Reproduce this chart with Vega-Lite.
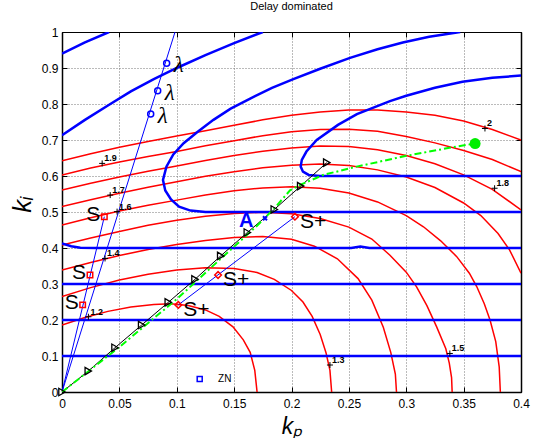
{
"$schema":"https://vega.github.io/schema/vega-lite/v6.json",
"width":459,"height":360,
"autosize":{"type":"none"},
"padding":{"left":62,"top":32,"right":12,"bottom":46},
"background":"white",
"title":{"text":"Delay dominated","fontSize":11,"fontWeight":"normal","font":"Liberation Sans","color":"black","offset":14},
"config":{"view":{"stroke":"black","strokeWidth":1},"font":"Liberation Sans"},
"datasets":{
"red":[
{"c":"1.2","kp":0,"ki":0.186},{"c":"1.2","kp":0.02,"ki":0.207},{"c":"1.2","kp":0.04,"ki":0.224},{"c":"1.2","kp":0.06,"ki":0.236},{"c":"1.2","kp":0.08,"ki":0.243},{"c":"1.2","kp":0.095,"ki":0.245},{"c":"1.2","kp":0.11,"ki":0.24},{"c":"1.2","kp":0.125,"ki":0.228},{"c":"1.2","kp":0.137,"ki":0.21},{"c":"1.2","kp":0.149,"ki":0.181},{"c":"1.2","kp":0.158,"ki":0.145},{"c":"1.2","kp":0.164,"ki":0.11},{"c":"1.2","kp":0.168,"ki":0.06},{"c":"1.2","kp":0.17,"ki":0},
{"c":"1.3","kp":0,"ki":0.265},{"c":"1.3","kp":0.025,"ki":0.29},{"c":"1.3","kp":0.05,"ki":0.311},{"c":"1.3","kp":0.075,"ki":0.327},{"c":"1.3","kp":0.1,"ki":0.339},{"c":"1.3","kp":0.125,"ki":0.345},{"c":"1.3","kp":0.15,"ki":0.343},{"c":"1.3","kp":0.17,"ki":0.332},{"c":"1.3","kp":0.185,"ki":0.313},{"c":"1.3","kp":0.2,"ki":0.282},{"c":"1.3","kp":0.21,"ki":0.25},{"c":"1.3","kp":0.218,"ki":0.21},{"c":"1.3","kp":0.225,"ki":0.16},{"c":"1.3","kp":0.23,"ki":0.11},{"c":"1.3","kp":0.2335,"ki":0.06},{"c":"1.3","kp":0.235,"ki":0},
{"c":"1.4","kp":0,"ki":0.339},{"c":"1.4","kp":0.025,"ki":0.36},{"c":"1.4","kp":0.05,"ki":0.379},{"c":"1.4","kp":0.075,"ki":0.396},{"c":"1.4","kp":0.1,"ki":0.41},{"c":"1.4","kp":0.125,"ki":0.421},{"c":"1.4","kp":0.15,"ki":0.429},{"c":"1.4","kp":0.175,"ki":0.432},{"c":"1.4","kp":0.2,"ki":0.424},{"c":"1.4","kp":0.22,"ki":0.405},{"c":"1.4","kp":0.24,"ki":0.37},{"c":"1.4","kp":0.258,"ki":0.315},{"c":"1.4","kp":0.27,"ki":0.255},{"c":"1.4","kp":0.28,"ki":0.18},{"c":"1.4","kp":0.2865,"ki":0.11},{"c":"1.4","kp":0.2905,"ki":0.05},{"c":"1.4","kp":0.2915,"ki":0},
{"c":"1.5","kp":0,"ki":0.408},{"c":"1.5","kp":0.025,"ki":0.428},{"c":"1.5","kp":0.05,"ki":0.446},{"c":"1.5","kp":0.075,"ki":0.463},{"c":"1.5","kp":0.1,"ki":0.477},{"c":"1.5","kp":0.125,"ki":0.488},{"c":"1.5","kp":0.15,"ki":0.496},{"c":"1.5","kp":0.175,"ki":0.499},{"c":"1.5","kp":0.2,"ki":0.495},{"c":"1.5","kp":0.225,"ki":0.482},{"c":"1.5","kp":0.25,"ki":0.458},{"c":"1.5","kp":0.27,"ki":0.425},{"c":"1.5","kp":0.2858,"ki":0.38},{"c":"1.5","kp":0.3,"ki":0.333},{"c":"1.5","kp":0.309,"ki":0.292},{"c":"1.5","kp":0.318,"ki":0.24},{"c":"1.5","kp":0.3265,"ki":0.181},{"c":"1.5","kp":0.3345,"ki":0.12},{"c":"1.5","kp":0.3375,"ki":0.08},{"c":"1.5","kp":0.3395,"ki":0.04},{"c":"1.5","kp":0.34,"ki":0},
{"c":"1.6","kp":0,"ki":0.464},{"c":"1.6","kp":0.025,"ki":0.484},{"c":"1.6","kp":0.05,"ki":0.503},{"c":"1.6","kp":0.075,"ki":0.519},{"c":"1.6","kp":0.1,"ki":0.533},{"c":"1.6","kp":0.125,"ki":0.547},{"c":"1.6","kp":0.15,"ki":0.559},{"c":"1.6","kp":0.175,"ki":0.567},{"c":"1.6","kp":0.2,"ki":0.57},{"c":"1.6","kp":0.225,"ki":0.566},{"c":"1.6","kp":0.25,"ki":0.553},{"c":"1.6","kp":0.275,"ki":0.528},{"c":"1.6","kp":0.3,"ki":0.49},{"c":"1.6","kp":0.315,"ki":0.459},{"c":"1.6","kp":0.33,"ki":0.42},{"c":"1.6","kp":0.344,"ki":0.376},{"c":"1.6","kp":0.355,"ki":0.33},{"c":"1.6","kp":0.3614,"ki":0.293},{"c":"1.6","kp":0.368,"ki":0.245},{"c":"1.6","kp":0.373,"ki":0.2},{"c":"1.6","kp":0.378,"ki":0.14},{"c":"1.6","kp":0.381,"ki":0.07},{"c":"1.6","kp":0.382,"ki":0},
{"c":"1.7","kp":0,"ki":0.515},{"c":"1.7","kp":0.025,"ki":0.534},{"c":"1.7","kp":0.05,"ki":0.552},{"c":"1.7","kp":0.075,"ki":0.569},{"c":"1.7","kp":0.1,"ki":0.584},{"c":"1.7","kp":0.125,"ki":0.599},{"c":"1.7","kp":0.15,"ki":0.612},{"c":"1.7","kp":0.175,"ki":0.623},{"c":"1.7","kp":0.2,"ki":0.63},{"c":"1.7","kp":0.225,"ki":0.633},{"c":"1.7","kp":0.25,"ki":0.629},{"c":"1.7","kp":0.275,"ki":0.617},{"c":"1.7","kp":0.3,"ki":0.597},{"c":"1.7","kp":0.325,"ki":0.568},{"c":"1.7","kp":0.35,"ki":0.525},{"c":"1.7","kp":0.365,"ki":0.49},{"c":"1.7","kp":0.38,"ki":0.44},{"c":"1.7","kp":0.39,"ki":0.395},{"c":"1.7","kp":0.4,"ki":0.33},
{"c":"1.8","kp":0,"ki":0.561},{"c":"1.8","kp":0.025,"ki":0.58},{"c":"1.8","kp":0.05,"ki":0.597},{"c":"1.8","kp":0.075,"ki":0.613},{"c":"1.8","kp":0.1,"ki":0.628},{"c":"1.8","kp":0.125,"ki":0.643},{"c":"1.8","kp":0.15,"ki":0.657},{"c":"1.8","kp":0.175,"ki":0.669},{"c":"1.8","kp":0.2,"ki":0.678},{"c":"1.8","kp":0.225,"ki":0.683},{"c":"1.8","kp":0.25,"ki":0.682},{"c":"1.8","kp":0.275,"ki":0.673},{"c":"1.8","kp":0.3,"ki":0.657},{"c":"1.8","kp":0.325,"ki":0.634},{"c":"1.8","kp":0.35,"ki":0.603},{"c":"1.8","kp":0.375,"ki":0.563},{"c":"1.8","kp":0.4,"ki":0.506},
{"c":"1.9","kp":0,"ki":0.603},{"c":"1.9","kp":0.025,"ki":0.622},{"c":"1.9","kp":0.05,"ki":0.639},{"c":"1.9","kp":0.075,"ki":0.654},{"c":"1.9","kp":0.1,"ki":0.668},{"c":"1.9","kp":0.125,"ki":0.684},{"c":"1.9","kp":0.15,"ki":0.698},{"c":"1.9","kp":0.175,"ki":0.712},{"c":"1.9","kp":0.2,"ki":0.723},{"c":"1.9","kp":0.225,"ki":0.729},{"c":"1.9","kp":0.25,"ki":0.73},{"c":"1.9","kp":0.275,"ki":0.724},{"c":"1.9","kp":0.3,"ki":0.71},{"c":"1.9","kp":0.325,"ki":0.692},{"c":"1.9","kp":0.35,"ki":0.671},{"c":"1.9","kp":0.375,"ki":0.646},{"c":"1.9","kp":0.4,"ki":0.612},
{"c":"2","kp":0,"ki":0.642},{"c":"2","kp":0.025,"ki":0.662},{"c":"2","kp":0.05,"ki":0.68},{"c":"2","kp":0.075,"ki":0.696},{"c":"2","kp":0.1,"ki":0.711},{"c":"2","kp":0.125,"ki":0.726},{"c":"2","kp":0.15,"ki":0.741},{"c":"2","kp":0.175,"ki":0.756},{"c":"2","kp":0.2,"ki":0.769},{"c":"2","kp":0.225,"ki":0.778},{"c":"2","kp":0.25,"ki":0.783},{"c":"2","kp":0.275,"ki":0.783},{"c":"2","kp":0.3,"ki":0.778},{"c":"2","kp":0.325,"ki":0.769},{"c":"2","kp":0.35,"ki":0.753},{"c":"2","kp":0.375,"ki":0.729},{"c":"2","kp":0.4,"ki":0.7}
],
"blue":[
{"c":"b1","i":0,"kp":0,"ki":0.94},{"c":"b1","i":1,"kp":0.02,"ki":0.971},{"c":"b1","i":2,"kp":0.041,"ki":1.0},
{"c":"b2","i":0,"kp":0,"ki":0.713},{"c":"b2","i":1,"kp":0.02,"ki":0.756},{"c":"b2","i":2,"kp":0.04,"ki":0.796},{"c":"b2","i":3,"kp":0.06,"ki":0.835},{"c":"b2","i":4,"kp":0.08,"ki":0.869},{"c":"b2","i":5,"kp":0.1,"ki":0.9},{"c":"b2","i":6,"kp":0.125,"ki":0.936},{"c":"b2","i":7,"kp":0.15,"ki":0.969},{"c":"b2","i":8,"kp":0.175,"ki":1.0},
{"c":"b3","i":0,"kp":0.4,"ki":0.5},{"c":"b3","i":1,"kp":0.125,"ki":0.5},{"c":"b3","i":2,"kp":0.112,"ki":0.504},{"c":"b3","i":3,"kp":0.102,"ki":0.515},{"c":"b3","i":4,"kp":0.095,"ki":0.535},{"c":"b3","i":5,"kp":0.09,"ki":0.56},{"c":"b3","i":6,"kp":0.088,"ki":0.589},{"c":"b3","i":7,"kp":0.091,"ki":0.626},{"c":"b3","i":8,"kp":0.097,"ki":0.66},{"c":"b3","i":9,"kp":0.106,"ki":0.691},{"c":"b3","i":10,"kp":0.118,"ki":0.722},{"c":"b3","i":11,"kp":0.132,"ki":0.756},{"c":"b3","i":12,"kp":0.147,"ki":0.787},{"c":"b3","i":13,"kp":0.164,"ki":0.815},{"c":"b3","i":14,"kp":0.183,"ki":0.845},{"c":"b3","i":15,"kp":0.2016,"ki":0.869},{"c":"b3","i":16,"kp":0.225,"ki":0.898},{"c":"b3","i":17,"kp":0.251,"ki":0.928},{"c":"b3","i":18,"kp":0.275,"ki":0.952},{"c":"b3","i":19,"kp":0.297,"ki":0.971},{"c":"b3","i":20,"kp":0.32,"ki":0.987},{"c":"b3","i":21,"kp":0.347,"ki":1.0},
{"c":"b4","i":0,"kp":0.4,"ki":0.6},{"c":"b4","i":1,"kp":0.225,"ki":0.6},{"c":"b4","i":2,"kp":0.215,"ki":0.603},{"c":"b4","i":3,"kp":0.21,"ki":0.612},{"c":"b4","i":4,"kp":0.208,"ki":0.626},{"c":"b4","i":5,"kp":0.209,"ki":0.645},{"c":"b4","i":6,"kp":0.213,"ki":0.668},{"c":"b4","i":7,"kp":0.222,"ki":0.7},{"c":"b4","i":8,"kp":0.2405,"ki":0.742},{"c":"b4","i":9,"kp":0.257,"ki":0.772},{"c":"b4","i":10,"kp":0.2858,"ki":0.808},{"c":"b4","i":11,"kp":0.3,"ki":0.823},{"c":"b4","i":12,"kp":0.325,"ki":0.845},{"c":"b4","i":13,"kp":0.349,"ki":0.862},{"c":"b4","i":14,"kp":0.375,"ki":0.873},{"c":"b4","i":15,"kp":0.4,"ki":0.879},
{"c":"h1","i":0,"kp":0,"ki":0.1},{"c":"h1","i":1,"kp":0.4,"ki":0.1},
{"c":"h2","i":0,"kp":0,"ki":0.2},{"c":"h2","i":1,"kp":0.4,"ki":0.2},
{"c":"h3","i":0,"kp":0,"ki":0.3},{"c":"h3","i":1,"kp":0.4,"ki":0.3},
{"c":"h4","i":0,"kp":0,"ki":0.413},{"c":"h4","i":1,"kp":0.008,"ki":0.405},{"c":"h4","i":2,"kp":0.016,"ki":0.401},{"c":"h4","i":3,"kp":0.03,"ki":0.4},{"c":"h4","i":4,"kp":0.252,"ki":0.4},{"c":"h4","i":5,"kp":0.26,"ki":0.404},{"c":"h4","i":6,"kp":0.268,"ki":0.4},{"c":"h4","i":7,"kp":0.4,"ki":0.4}
],
"thin":[
{"c":"lam","kp":0,"ki":0},{"c":"lam","kp":0.0985,"ki":1.0},
{"c":"sq","kp":0,"ki":0},{"c":"sq","kp":0.0369,"ki":0.487},
{"c":"sp","kp":0.1014,"ki":0.242},{"c":"sp","kp":0.203,"ki":0.487}
],
"tri":[
{"kp":0,"ki":0},{"kp":0.0229,"ki":0.058},{"kp":0.0462,"ki":0.123},{"kp":0.0694,"ki":0.186},{"kp":0.0926,"ki":0.249},{"kp":0.1159,"ki":0.313},{"kp":0.1383,"ki":0.378},{"kp":0.1615,"ki":0.443},{"kp":0.185,"ki":0.507},{"kp":0.208,"ki":0.572},{"kp":0.2307,"ki":0.637}
],
"green":[
{"kp":0,"ki":0},{"kp":0.05,"ki":0.125},{"kp":0.1,"ki":0.258},{"kp":0.14,"ki":0.375},{"kp":0.17,"ki":0.462},{"kp":0.185,"ki":0.51},{"kp":0.1987,"ki":0.56},{"kp":0.2074,"ki":0.575},{"kp":0.2277,"ki":0.603},{"kp":0.2568,"ki":0.626},{"kp":0.3,"ki":0.656},{"kp":0.344,"ki":0.682},{"kp":0.36,"ki":0.69}
],
"lam":[{"kp":0.0912,"ki":0.913,"t":"λ"},{"kp":0.0834,"ki":0.837,"t":"λ"},{"kp":0.0773,"ki":0.772,"t":"λ"}],
"sq":[{"kp":0.018,"ki":0.242,"t":"S"},{"kp":0.0244,"ki":0.325,"t":"S"},{"kp":0.0369,"ki":0.487,"t":"S"}],
"sp":[{"kp":0.1014,"ki":0.242,"t":"S+"},{"kp":0.136,"ki":0.325,"t":"S+"},{"kp":0.203,"ki":0.487,"t":"S+"}],
"lab":[
{"t":"1.2","kp":0.023,"ki":0.209},{"t":"1.3","kp":0.2335,"ki":0.075},{"t":"1.4","kp":0.0375,"ki":0.371},{"t":"1.5","kp":0.338,"ki":0.107},{"t":"1.6","kp":0.048,"ki":0.501},{"t":"1.7","kp":0.042,"ki":0.547},{"t":"1.8","kp":0.377,"ki":0.566},{"t":"1.9","kp":0.035,"ki":0.635},{"t":"2","kp":0.3686,"ki":0.732}
]
},
"encoding":{
"x":{"field":"kp","type":"quantitative","scale":{"domain":[0,0.4],"nice":false,"zero":false},"axis":null},
"y":{"field":"ki","type":"quantitative","scale":{"domain":[0,1],"nice":false,"zero":false},"axis":null}
},
"layer":[
{"data":{"name":"red"},
"mark":{"type":"line","color":"#ff0000","strokeWidth":1.5,"clip":true},
"encoding":{
"x":{"field":"kp","type":"quantitative","scale":{"domain":[0,0.4],"nice":false,"zero":false},
"axis":{"orient":"bottom","values":[0,0.05,0.1,0.15,0.2,0.25,0.3,0.35,0.4],"format":"~g","grid":true,"gridDash":[1,2],"gridColor":"#777777","gridWidth":1,"domainColor":"black","domainWidth":1.5,"tickColor":"black","tickSize":-5,"tickWidth":1,"labelPadding":11,"labelFont":"Liberation Sans","labelFontSize":12,"labelColor":"black","labelFlush":false,"labelOverlap":false,"title":"kₚ","titleFont":"Liberation Sans","titleFontSize":23,"titleFontStyle":"italic","titleFontWeight":"normal","titleColor":"black","titleY":41,"titleBaseline":"alphabetic"}},
"y":{"field":"ki","type":"quantitative","scale":{"domain":[0,1],"nice":false,"zero":false},
"axis":{"orient":"left","values":[0,0.1,0.2,0.3,0.4,0.5,0.6,0.7,0.8,0.9,1],"format":"~g","grid":true,"gridDash":[1,2],"gridColor":"#777777","gridWidth":1,"domainColor":"black","domainWidth":1.5,"tickColor":"black","tickSize":-5,"tickWidth":1,"labelPadding":9,"labelFont":"Liberation Sans","labelFontSize":12,"labelColor":"black","labelFlush":false,"labelOverlap":false,"title":"kᵢ","titleFont":"Liberation Sans","titleFontSize":26,"titleFontStyle":"italic","titleFontWeight":"normal","titleColor":"black","titleX":-32,"titleY":172,"titleBaseline":"alphabetic","titleAlign":"center"}},
"detail":{"field":"c"}
}},
{"data":{"name":"blue"},
"mark":{"type":"line","color":"#0000ff","strokeWidth":2.5,"clip":true},
"encoding":{
"x":{"field":"kp","type":"quantitative","scale":{"domain":[0,0.4],"nice":false,"zero":false},
"axis":{"orient":"top","values":[0,0.05,0.1,0.15,0.2,0.25,0.3,0.35,0.4],"labels":false,"grid":false,"domainColor":"black","domainWidth":1,"tickColor":"black","tickSize":-5,"title":null}},
"y":{"field":"ki","type":"quantitative","scale":{"domain":[0,1],"nice":false,"zero":false},
"axis":{"orient":"right","values":[0,0.1,0.2,0.3,0.4,0.5,0.6,0.7,0.8,0.9,1],"labels":false,"grid":false,"domainColor":"black","domainWidth":1.5,"tickColor":"black","tickSize":-5,"title":null}},
"detail":{"field":"c"},
"order":{"field":"i","type":"quantitative"}
}},
{"data":{"name":"thin"},
"mark":{"type":"line","color":"#0000ff","strokeWidth":1,"clip":true},
"encoding":{"detail":{"field":"c"}}},
{"data":{"name":"tri"},
"mark":{"type":"line","color":"black","strokeWidth":1,"clip":true},
"encoding":{}},
{"data":{"name":"green"},
"mark":{"type":"line","color":"#00ff00","strokeWidth":2,"strokeDash":[7,3,2,3],"clip":true},
"encoding":{}},
{"data":{"name":"tri"},
"mark":{"type":"point","shape":"triangle-right","size":55,"filled":false,"stroke":"black","strokeWidth":1.3,"opacity":1}},
{"data":{"values":[{"kp":0.36,"ki":0.69}]},
"mark":{"type":"point","shape":"circle","size":120,"filled":true,"color":"#00ee00","opacity":1}},
{"data":{"name":"lam"},
"mark":{"type":"point","shape":"circle","size":36,"filled":false,"stroke":"#0000ff","strokeWidth":1.5,"opacity":1}},
{"data":{"name":"lam"},
"mark":{"type":"text","font":"Liberation Serif","fontStyle":"italic","fontSize":23,"align":"left","baseline":"alphabetic","dx":7,"dy":9,"color":"black"},
"encoding":{"text":{"field":"t"}}},
{"data":{"name":"sq"},
"mark":{"type":"point","shape":"square","size":30,"filled":false,"stroke":"#ff0000","strokeWidth":1.5,"opacity":1}},
{"data":{"name":"sq"},
"mark":{"type":"text","font":"Liberation Sans","fontSize":21,"align":"right","baseline":"alphabetic","dx":-4,"dy":4,"color":"black"},
"encoding":{"text":{"field":"t"}}},
{"data":{"name":"sp"},
"mark":{"type":"point","shape":"diamond","size":45,"filled":false,"stroke":"#ff0000","strokeWidth":1.5,"opacity":1}},
{"data":{"name":"sp"},
"mark":{"type":"text","font":"Liberation Sans","fontSize":21,"align":"left","baseline":"alphabetic","dx":5,"dy":11,"color":"black"},
"encoding":{"text":{"field":"t"}}},
{"data":{"values":[{"kp":0.1605,"ki":0.457,"t":"A"}]},
"mark":{"type":"text","font":"Liberation Sans","fontSize":20,"fontWeight":"bold","align":"center","baseline":"alphabetic","color":"#0000ff"},
"encoding":{"text":{"field":"t"}}},
{"data":{"values":[{"kp":0.1769,"ki":0.4825}]},
"mark":{"type":"point","shape":"M-1,-1L1,1M-1,1L1,-1","size":16,"filled":false,"stroke":"#0000ff","strokeWidth":2,"opacity":1}},
{"data":{"values":[{"kp":0.12,"ki":0.036}]},
"mark":{"type":"point","shape":"square","size":25,"filled":false,"stroke":"#0000ff","strokeWidth":1.5,"opacity":1}},
{"data":{"values":[{"kp":0.136,"ki":0.036,"t":"ZN"}]},
"mark":{"type":"text","font":"Liberation Sans","fontSize":10,"align":"left","baseline":"middle","color":"black"},
"encoding":{"text":{"field":"t"}}},
{"data":{"name":"lab"},
"mark":{"type":"point","shape":"M-1,0L1,0M0,-1L0,1","size":36,"filled":false,"stroke":"black","strokeWidth":1,"opacity":1}},
{"data":{"name":"lab"},
"mark":{"type":"text","font":"Liberation Sans","fontSize":9,"fontWeight":"bold","align":"left","baseline":"alphabetic","dx":2,"dy":-2,"color":"black"},
"encoding":{"text":{"field":"t"}}}
],
"resolve":{"axis":{"x":"independent","y":"independent"}}
}
